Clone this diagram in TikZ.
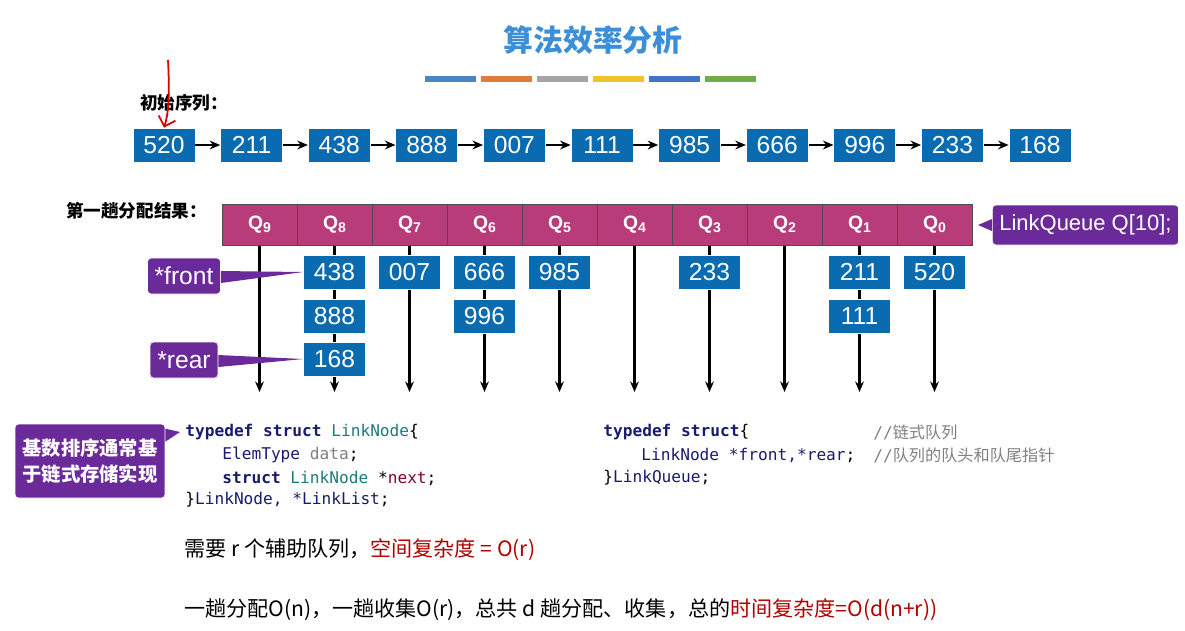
\documentclass[tikz,border=0pt]{standalone}
\usepackage{fontspec}
\setmainfont{Liberation Sans}
\setmonofont{DejaVu Sans Mono}
\newfontfamily\cjk{Noto Sans CJK SC}
\usetikzlibrary{positioning, arrows.meta, calc}
\definecolor{boxBlue}{HTML}{0A6BB0}
\definecolor{qPink}{HTML}{B83C7A}
\definecolor{calloutPurple}{HTML}{6A2A9A}
\definecolor{titleBlue}{HTML}{3A8FD8}
\definecolor{kwNavy}{HTML}{1A1A6E}
\definecolor{typeTeal}{HTML}{1F7A7A}
\definecolor{darkRed}{HTML}{B00000}
\tikzset{
  keybox/.style={fill=boxBlue, draw=white, text=white, minimum width=1.24cm, minimum height=0.68cm, inner sep=0pt, font=\fontsize{14}{14}\selectfont},
  qcell/.style={fill=qPink, draw=black!70, text=white, minimum width=1.5cm, minimum height=0.82cm, inner sep=0pt, font=\bfseries\fontsize{11}{11}\selectfont},
  callout/.style={fill=calloutPurple, draw=white, text=white, rounded corners=2pt, inner sep=4pt},
  link/.style={-{Stealth[length=6pt, width=5pt]}, line width=1.2pt},
  codeline/.style={anchor=west, inner sep=0pt, font=\ttfamily\fontsize{9.2}{9.2}\selectfont},
}
\begin{document}
\begin{tikzpicture}[x=0.02cm, y=-0.02cm]
\useasboundingbox (0,0) rectangle (1185,630);
% title
\node (title) [text=titleBlue, font=\cjk\bfseries\fontsize{17}{17}\selectfont] at (593,40) {算法效率分析};
\foreach \c [count=\i from 0] in {4A86C5,E07B39,A5A5A5,F2C12E,4472C4,70AD47} {
  \definecolor{barColor}{HTML}{\c}
  \fill[barColor] (425+\i*56,76) rectangle ++(51,6);
}
% initial sequence
\node (initLabel) [anchor=west, font=\cjk\bfseries\fontsize{10}{10}\selectfont] at (134,103) {初始序列：};
\foreach \v [count=\i from 0] in {520,211,438,888,007,111,985,666,996,233,168}
  \node (init\i) [keybox] at (164+\i*87.6,145) {\v};
\foreach \i [evaluate=\i as \j using int(\i+1)] in {0,...,9}
  \draw[link] (init\i) -- (init\j);
% queue bar
\node (distLabel) [anchor=west, font=\cjk\bfseries\fontsize{10}{10}\selectfont] at (60,211) {第一趟分配结果：};
\foreach \k [count=\i from 0] in {9,8,...,0} {
  \node (q\k) [qcell] at (259.5+\i*75,225) {Q\raisebox{-0.3ex}{\fontsize{8}{8}\selectfont\k}};
  \coordinate (end\k) at (259.5+\i*75,392);
  \draw[link] (q\k.south) -- (end\k);
}
\node (lq) [callout, anchor=west, minimum height=0.8cm, font=\fontsize{12.5}{12.5}\selectfont] at (992,225) {LinkQueue Q[10];};
\fill[calloutPurple] ($(lq.west)+(0,-6)$) -- ($(lq.west)+(-14,0)$) -- ($(lq.west)+(0,6)$) -- cycle;
% buckets
\node (b438) [keybox] at (q8 |- 0,272) {438};
\node (b888) [keybox] at (q8 |- 0,316) {888};
\node (b168) [keybox] at (q8 |- 0,359) {168};
\node (b007) [keybox] at (q7 |- 0,272) {007};
\node (b666) [keybox] at (q6 |- 0,272) {666};
\node (b996) [keybox] at (q6 |- 0,316) {996};
\node (b985) [keybox] at (q5 |- 0,272) {985};
\node (b233) [keybox] at (q3 |- 0,272) {233};
\node (b211) [keybox] at (q1 |- 0,272) {211};
\node (b111) [keybox] at (q1 |- 0,316) {111};
\node (b520) [keybox] at (q0 |- 0,272) {520};
% front / rear pointers
\node (front) [callout, minimum width=1.36cm, minimum height=0.72cm, font=\fontsize{14}{14}\selectfont] at (184,276) {*front};
\node (rear) [callout, minimum width=1.36cm, minimum height=0.72cm, font=\fontsize{14}{14}\selectfont] at (184,360) {*rear};
\fill[calloutPurple] ($(front.east)+(0,-5)$) -- (b438.west) -- ($(front.east)+(0,7)$) -- cycle;
\fill[calloutPurple] ($(rear.east)+(0,-5)$) -- (b168.west) -- ($(rear.east)+(0,7)$) -- cycle;
% red mark
\draw[red!85!black, line width=1pt, -{Straight Barb[length=5pt]}] (168,60) .. controls (170,100) and (168,115) .. (init0.north);
% code
\node (note) [callout, align=center, minimum width=3cm, minimum height=1.48cm, font=\cjk\bfseries\fontsize{11}{15}\selectfont] at (90,461) {基数排序通常基\\于链式存储实现};
\fill[calloutPurple] ($(note.north east)+(0,5)$) -- (180,432) -- ($(note.north east)+(0,18)$) -- cycle;
\node (c1) [codeline] at (185,432) {\textcolor{kwNavy}{\bfseries typedef struct} \textcolor{typeTeal}{LinkNode}\{};
\node (c2) [codeline] at (222,455) {\textcolor{kwNavy}{ElemType} \textcolor{gray}{data};};
\node (c3) [codeline] at (222,478) {\textcolor{kwNavy}{\bfseries struct} \textcolor{typeTeal}{LinkNode} *\textcolor{purple!70!black}{next};};
\node (c4) [codeline] at (185,500) {\}\textcolor{kwNavy}{LinkNode, *LinkList};};
\node (d1) [codeline] at (603,432) {\textcolor{kwNavy}{\bfseries typedef struct}\{};
\node (d2) [codeline] at (641,455) {\textcolor{kwNavy}{LinkNode *front,*rear};};
\node (d3) [codeline] at (603,478) {\}\textcolor{kwNavy}{LinkQueue};};
\node (e1) [codeline, text=gray] at (873,432) {//\cjk 链式队列};
\node (e2) [codeline, text=gray] at (873,455) {//\cjk 队列的队头和队尾指针};
% complexity
\node (space) [anchor=west, font=\cjk\fontsize{12}{12}\selectfont] at (178,550) {需要 r 个辅助队列，\textcolor{darkRed}{空间复杂度 = O(r)}};
\node (time) [anchor=west, font=\cjk\fontsize{12}{12}\selectfont] at (178,610) {一趟分配O(n)，一趟收集O(r)，总共 d 趟分配、收集，总的\textcolor{darkRed}{时间复杂度=O(d(n+r))}};
\end{tikzpicture}
\end{document}
